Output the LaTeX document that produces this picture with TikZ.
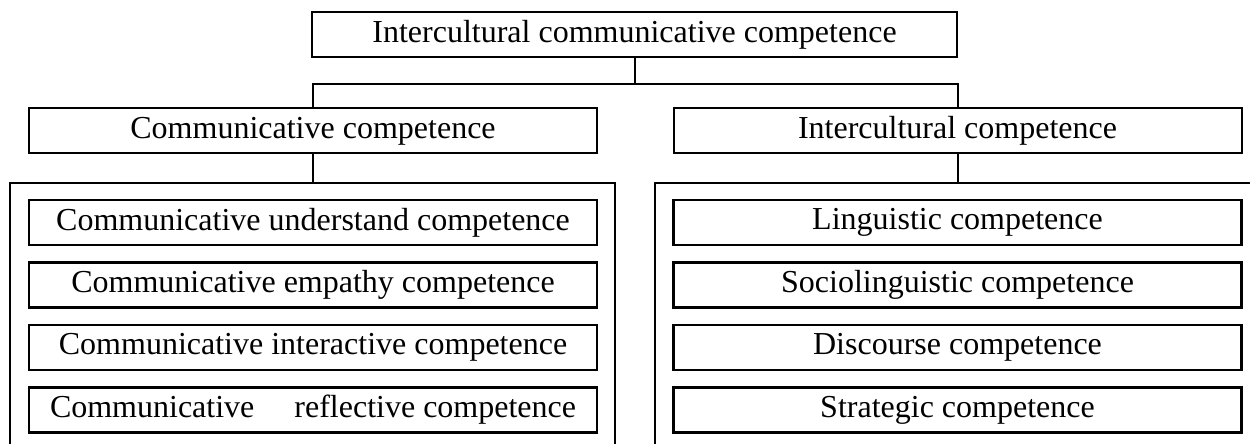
\documentclass[tikz,border=0pt]{standalone}
\usepackage{fontspec}
\setmainfont{Liberation Serif}
\usetikzlibrary{positioning}

\begin{document}
\begin{tikzpicture}[x=0.5pt, y=-0.5pt, node distance=31.25pt, line width=1pt,
    every node/.style={draw, line width=1pt, minimum height=22.5pt, inner sep=2pt, font=\fontsize{16}{19}\selectfont},
    wide/.style={minimum width=284pt},
    item/.style={wide, line width=1.25pt}]
    \useasboundingbox (0,0) rectangle (1250,444);
        \node[minimum width=322.5pt] (icc) at (634.5,34.5) {Intercultural communicative competence};
        \node[wide] (cc) at (313,131) {Communicative competence};
        \node[wide] (ic) at (957.5,131) {Intercultural competence};
        % left group
        \node[item] (under) at (313,222.5) {Communicative understand competence};
        \node[item, below of=under] (empathy) {Communicative empathy competence};
        \node[item, below of=empathy] (interact) {Communicative interactive competence};
        \node[item, below of=interact] (reflect) {Communicative\ \ \ \ \ reflective competence};
        % right group
        \node[item] (ling) at (957.5,222.5) {Linguistic competence};
        \node[item, below of=ling] (socio) {Sociolinguistic competence};
        \node[item, below of=socio] (disc) {Discourse competence};
        \node[item, below of=disc] (strat) {Strategic competence};
        % frames round the groups
        \draw (10,444) -- (10,183) -- (615,183) -- (615,444);
        \draw (655,444) -- (655,183) -- (1250,183);
        \coordinate (ltop) at (313,183);
        \coordinate (rtop) at (957.5,183);
        \draw (icc.south) -- ++(0,26) coordinate (bus);
        \draw (cc.north) |- (bus) -| (ic.north);
        \draw (cc.south) -- (ltop);
        \draw (ic.south) -- (rtop);
    \end{tikzpicture}
\end{document}
